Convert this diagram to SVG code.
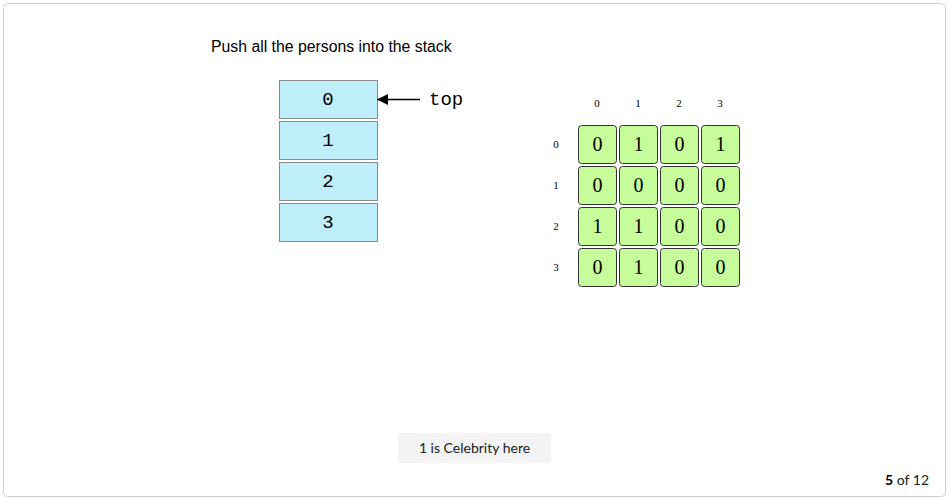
<svg xmlns="http://www.w3.org/2000/svg" width="949" height="499" viewBox="0 0 949 499">
<style>
.frame{fill:#fff;stroke:#d0d0d0;stroke-width:1}
.stk{fill:#bfeefb;stroke:#8a8a8a;stroke-width:1}
.stt{font-family:"Liberation Mono",monospace;font-size:19px;fill:#000;text-anchor:middle}
.cell{fill:#c6fc9a;stroke:#333;stroke-width:1}
.ct{font-family:"Liberation Serif",serif;font-size:20px;fill:#000;text-anchor:middle}
.lbl{font-family:"Liberation Serif",serif;font-size:11px;fill:#000;text-anchor:middle}
</style>
<defs>
<marker id="ah" viewBox="0 0 10 10" refX="10" refY="5" markerWidth="15" markerHeight="11" markerUnits="userSpaceOnUse" orient="auto">
<path d="M0,0 L10,5 L0,10 z" fill="#000"/>
</marker>
</defs>
<rect class="frame" x="3.5" y="3.5" width="942" height="493" rx="4"/>
<text x="211" y="52" font-family="Liberation Sans,Arial,sans-serif" font-size="15.8" fill="#000">Push all the persons into the stack</text>
<g id="stack0"><rect class="stk" x="279.5" y="80.5" width="98" height="38"/><text class="stt" x="328" y="105">0</text></g>
<g id="stack1"><rect class="stk" x="279.5" y="121.5" width="98" height="38"/><text class="stt" x="328" y="146">1</text></g>
<g id="stack2"><rect class="stk" x="279.5" y="162.5" width="98" height="38"/><text class="stt" x="328" y="187">2</text></g>
<g id="stack3"><rect class="stk" x="279.5" y="203.5" width="98" height="38"/><text class="stt" x="328" y="228">3</text></g>
<g id="connectors">
<line x1="420" y1="99.5" x2="377" y2="99.5" stroke="#000" stroke-width="1.5" marker-end="url(#ah)"/>
</g>
<g id="toplabel"><text x="429" y="105" font-family="Liberation Mono,monospace" font-size="19" fill="#000">top</text></g>
<g id="collabels">
<text class="lbl" x="597" y="107">0</text><text class="lbl" x="638" y="107">1</text><text class="lbl" x="679" y="107">2</text><text class="lbl" x="720" y="107">3</text>
</g>
<g id="rowlabels">
<text class="lbl" x="556" y="148">0</text><text class="lbl" x="556" y="189">1</text><text class="lbl" x="556" y="230">2</text><text class="lbl" x="556" y="271">3</text>
</g>
<g id="matrix">
<g id="r0">
<rect class="cell" x="578.5" y="125.5" width="38" height="38" rx="3"/><text class="ct" x="597.5" y="151">0</text>
<rect class="cell" x="619.5" y="125.5" width="38" height="38" rx="3"/><text class="ct" x="638.5" y="151">1</text>
<rect class="cell" x="660.5" y="125.5" width="38" height="38" rx="3"/><text class="ct" x="679.5" y="151">0</text>
<rect class="cell" x="701.5" y="125.5" width="38" height="38" rx="3"/><text class="ct" x="720.5" y="151">1</text>
</g>
<g id="r1">
<rect class="cell" x="578.5" y="166.5" width="38" height="38" rx="3"/><text class="ct" x="597.5" y="192">0</text>
<rect class="cell" x="619.5" y="166.5" width="38" height="38" rx="3"/><text class="ct" x="638.5" y="192">0</text>
<rect class="cell" x="660.5" y="166.5" width="38" height="38" rx="3"/><text class="ct" x="679.5" y="192">0</text>
<rect class="cell" x="701.5" y="166.5" width="38" height="38" rx="3"/><text class="ct" x="720.5" y="192">0</text>
</g>
<g id="r2">
<rect class="cell" x="578.5" y="207.5" width="38" height="38" rx="3"/><text class="ct" x="597.5" y="233">1</text>
<rect class="cell" x="619.5" y="207.5" width="38" height="38" rx="3"/><text class="ct" x="638.5" y="233">1</text>
<rect class="cell" x="660.5" y="207.5" width="38" height="38" rx="3"/><text class="ct" x="679.5" y="233">0</text>
<rect class="cell" x="701.5" y="207.5" width="38" height="38" rx="3"/><text class="ct" x="720.5" y="233">0</text>
</g>
<g id="r3">
<rect class="cell" x="578.5" y="248.5" width="38" height="38" rx="3"/><text class="ct" x="597.5" y="274">0</text>
<rect class="cell" x="619.5" y="248.5" width="38" height="38" rx="3"/><text class="ct" x="638.5" y="274">1</text>
<rect class="cell" x="660.5" y="248.5" width="38" height="38" rx="3"/><text class="ct" x="679.5" y="274">0</text>
<rect class="cell" x="701.5" y="248.5" width="38" height="38" rx="3"/><text class="ct" x="720.5" y="274">0</text>
</g>
</g>
<g id="caption">
<rect x="398" y="433" width="153" height="30" rx="3" fill="#f3f3f3"/>
<text x="474.5" y="453" font-family="Lato,sans-serif" font-size="14" fill="#222" text-anchor="middle">1 is Celebrity here</text>
</g>
<text x="929" y="485" font-family="Lato,sans-serif" font-size="14" fill="#222" text-anchor="end"><tspan font-weight="bold" fill="#000">5</tspan> of 12</text>
</svg>
